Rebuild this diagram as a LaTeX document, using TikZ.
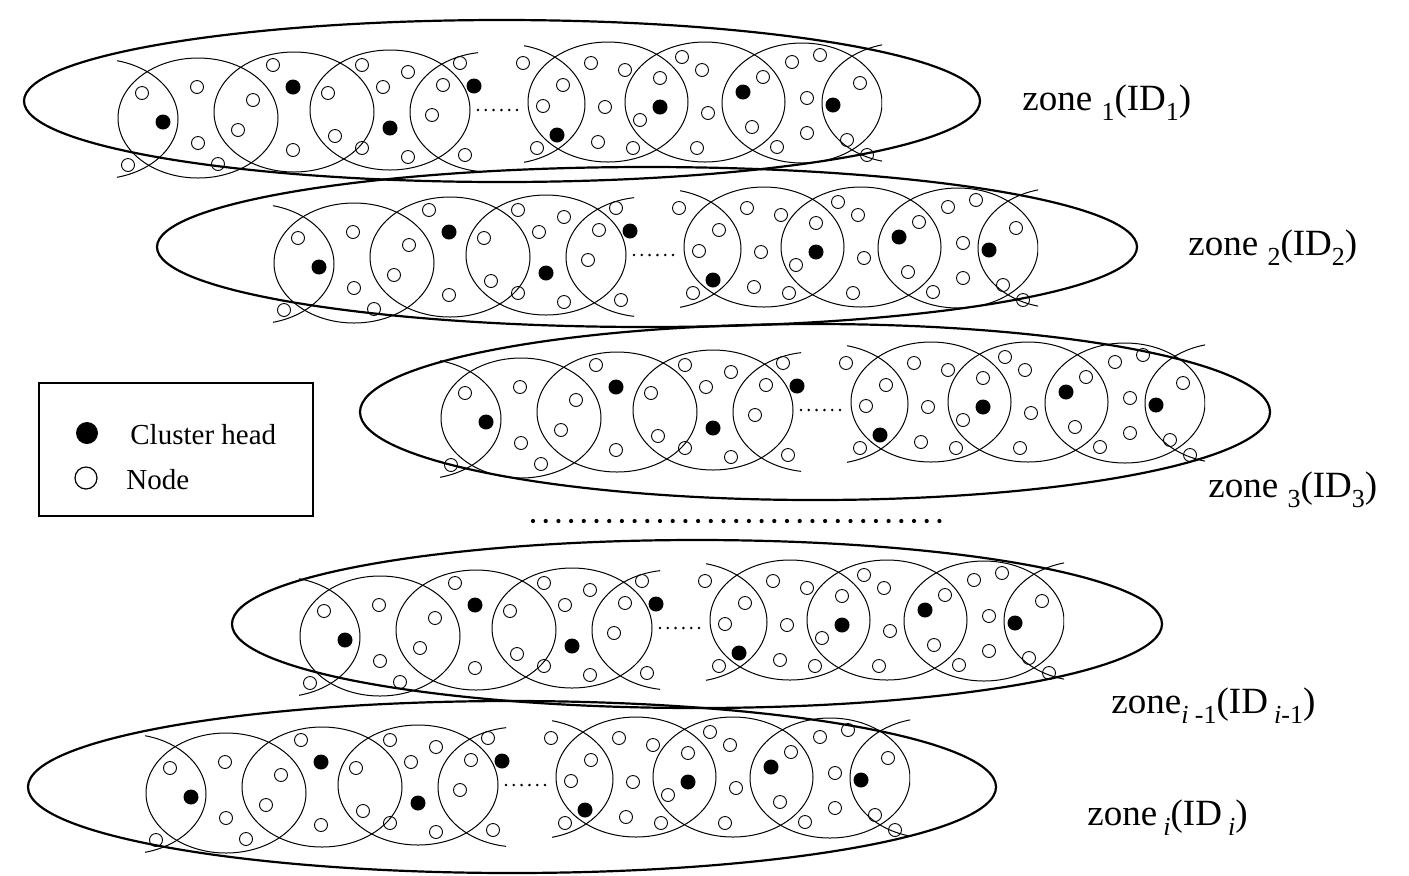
\documentclass[tikz,border=0pt]{standalone}
\usepackage{fontspec}
\setmainfont{Liberation Serif}
\usetikzlibrary{positioning}

% lowered index for the zone names
\newcommand{\lowsub}[1]{\raisebox{-5pt}{\fontsize{13}{14}\selectfont #1}}

\begin{document}
\begin{tikzpicture}[x=0.5pt,y=-0.5pt,
  zoneline/.style={line width=1.1pt},
  cluster/.style={line width=0.5pt},
  sensor/.style={line width=0.45pt},
  zonelabel/.style={anchor=base west,inner sep=0pt,font=\fontsize{18.5}{22}\selectfont},
  legendtext/.style={anchor=west,inner sep=0pt,font=\fontsize{14.5}{17}\selectfont}]
  \useasboundingbox (0,0) rectangle (1409,875);

  % zone outlines
  \draw[zoneline] (502,101) ellipse [x radius=478, y radius=81];
  \draw[zoneline] (647,247) ellipse [x radius=490, y radius=80];
  \draw[zoneline] (815,412) ellipse [x radius=455, y radius=88];
  \draw[zoneline] (697,624) ellipse [x radius=465, y radius=84];
  \draw[zoneline] (512,787) ellipse [x radius=484, y radius=86];

  % the same chain of clusters in every zone
  \foreach \dx/\dy in {0/0,156/145,323/300,182/518,28/675}{
    \begin{scope}[shift={(\dx,\dy)}]
      \begin{scope}
        \clip (117,30) rectangle (478,200);
        \foreach \cx/\cy in {98/119,198/118,294/112,390/110,490/112}
          \draw[cluster] (\cx,\cy) ellipse [x radius=80, y radius=60];
      \end{scope}
      \begin{scope}
        \clip (524,20) rectangle (882,190);
        \foreach \cx/\cy in {505/104,608/102,705/102,802/103,902/103}
          \draw[cluster] (\cx,\cy) ellipse [x radius=80, y radius=60];
      \end{scope}
      % ordinary nodes
      \foreach \px/\py in {128/165,142/93,197/87,198/143,218/164,238/130,253/100,
          273/65,293/150,328/93,335/136,362/65,383/87,408/72,362/148,408/157,
          460/63,443/85,432/115,465/155,
          523/63,563/85,543/106,537/148,591/63,605/107,598/142,625/70,633/148,
          640/120,660/78,682/57,702/70,708/113,697/148,763/77,752/127,777/147,
          792/62,820/55,807/98,807/133,860/83,847/140,867/155}
        \draw[sensor] (\px,\py) circle [radius=6.5];
      % cluster heads
      \foreach \px/\py in {163/122,293/87,390/128,474/86,557/135,660/107,743/92,833/105}
        \fill (\px,\py) circle [radius=7.5];
      % gap between the two halves
      \foreach \k in {0,...,5}
        \fill ({478+7.8*\k},110) circle [radius=1.4];
    \end{scope}
  }

  % zone names
  \node[zonelabel] (zlab1) at (1022,110) {zone \lowsub{1}(ID\lowsub{1})};
  \node[zonelabel] (zlab2) at (1188,255) {zone \lowsub{2}(ID\lowsub{2})};
  \node[zonelabel] (zlab3) at (1208,497) {zone \lowsub{3}(ID\lowsub{3})};
  \node[zonelabel] (zlabm) at (1111,713) {zone\lowsub{\textit{i} -1}(ID\,\lowsub{\textit{i}-1})};
  \node[zonelabel] (zlabi) at (1087,825) {zone\,\lowsub{\textit{i}}(ID\,\lowsub{\textit{i}})};

  % more zones in between
  \foreach \k in {0,...,32}
    \fill ({533+12.7*\k},521) circle [radius=2.1];

  % legend
  \draw[line width=0.7pt] (39,383) rectangle (313,516);
  \fill (87,433) circle [radius=11];
  \draw[line width=0.6pt] (86,478) circle [radius=11];
  \node[legendtext] (headtxt) at (130,435) {Cluster head};
  \node[legendtext] (nodetxt) at (126,480) {Node};
\end{tikzpicture}
\end{document}
